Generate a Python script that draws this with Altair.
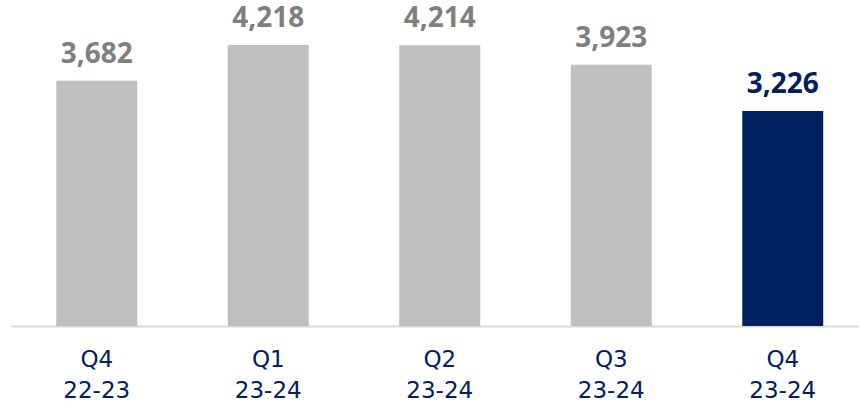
import altair as alt
import pandas as pd

quarters = ["Q4", "Q1", "Q2", "Q3", "Q4"]
years = ["22-23", "23-24", "23-24", "23-24", "23-24"]
values = [3682, 4218, 4214, 3923, 3226]
highlight = ["no", "no", "no", "no", "yes"]

df = pd.DataFrame({
    "period": [f"{q}\n{y}" for q, y in zip(quarters, years)],
    "value": values,
    "hl": highlight,
})

NAVY = "#002060"

base = alt.Chart(df).encode(
    x=alt.X(
        "period:N", sort=None, title=None,
        scale=alt.Scale(range=[0, 857.5], paddingInner=0.528, paddingOuter=0.264),
        axis=alt.Axis(
            labelExpr="split(datum.label, '\\n')",
            labelAngle=0, labelFont="DejaVu Sans", labelFontSize=23,
            labelColor=NAVY, labelLineHeight=31, labelPadding=22,
            labelBaseline="top",
            ticks=False, domainColor="#d9d9d9", domainWidth=2,
        ),
    ),
    y=alt.Y("value:Q", scale=alt.Scale(domain=[0, 4893]), axis=None),
)

bars = base.mark_bar().encode(
    color=alt.Color("hl:N", scale=alt.Scale(domain=["no", "yes"], range=["#bfbfbf", NAVY]), legend=None)
)

text = base.mark_text(
    baseline="alphabetic", dy=-18, font="Open Sans", fontSize=28, fontWeight="bold"
).encode(
    text=alt.Text("value:Q", format=","),
    color=alt.Color("hl:N", scale=alt.Scale(domain=["no", "yes"], range=["#7f7f7f", NAVY]), legend=None),
)

chart = (
    alt.layer(bars, text)
    .resolve_scale(color="independent")
    .properties(
        width=848, height=326, autosize="none",
        padding={"left": 11, "top": 0, "right": 0, "bottom": 84},
    )
    .configure_view(stroke=None)
)

chart.save("out.html", embed_options={"renderer": "svg", "actions": False})
